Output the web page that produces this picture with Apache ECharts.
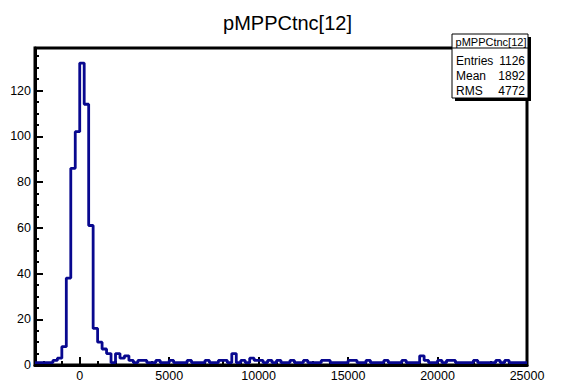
<!DOCTYPE html>
<html>
<head>
<meta charset="utf-8">
<script src="https://cdn.jsdelivr.net/npm/echarts@6/dist/echarts.min.js"></script>
<style>
  html, body { margin: 0; padding: 0; background: #fff; }
  #hist { width: 575px; height: 382px; }
</style>
</head>
<body>
<div id="hist"></div>
<script>
// binning of the histogram (110 bins of 250 from -2500 to 25000)
const xLow = -2500
const xHigh = 25000
const binWidth = 250

// bin contents
const counts = [
  1, 1, 1, 1, 2, 3, 8, 38, 86, 102,
  132, 114, 61, 16, 10, 7, 5, 1, 5, 3,
  4, 2, 1, 2, 2, 1, 1, 2, 1, 1,
  2, 1, 1, 1, 2, 1, 1, 1, 2, 1,
  1, 2, 2, 1, 5, 1, 2, 1, 3, 2,
  2, 1, 2, 1, 2, 1, 1, 2, 1, 1,
  2, 1, 1, 1, 2, 2, 1, 1, 1, 1,
  2, 2, 1, 1, 2, 1, 1, 1, 2, 1,
  1, 1, 2, 1, 1, 1, 4, 2, 1, 1,
  2, 1, 2, 2, 1, 1, 1, 1, 2, 1,
  1, 1, 1, 2, 1, 2, 1, 1, 1, 1
]

const xMajor = [0, 5000, 10000, 15000, 20000, 25000]
const xMinor = [-2000, -1000, 1000, 2000, 3000, 4000, 6000, 7000, 8000, 9000,
  11000, 12000, 13000, 14000, 16000, 17000, 18000, 19000, 21000, 22000, 23000, 24000]
const yMajor = [0, 20, 40, 60, 80, 100, 120]
const yMinor = [5, 10, 15, 25, 30, 35, 45, 50, 55, 65, 70, 75, 85, 90, 95,
  105, 110, 115, 125, 130, 135]
const yMax = 138.6

const histName = 'pMPPCtnc[12]'
const statNames = ['Entries', 'Mean', 'RMS']
const statValues = ['1126', '1892', '4772']

const font = 'Liberation Sans, Arial, Helvetica, sans-serif'

// outline points: left edge of every bin, plus the right edge of the last one
const steps = counts.map((c, i) => [xLow + i * binWidth, c])
steps.push([xHigh, counts[counts.length - 1]])

const chart = echarts.init(document.getElementById('hist'), null, { renderer: 'svg' })

// ROOT style stats box with its shadow
const statsGraphic = [
  { type: 'rect', shape: { x: 455, y: 37, width: 76, height: 64 }, style: { fill: '#000' } },
  { type: 'rect', shape: { x: 452, y: 34, width: 76, height: 64 }, style: { fill: '#fff', stroke: '#000', lineWidth: 1 } },
  { type: 'line', shape: { x1: 452, y1: 48, x2: 528, y2: 48 }, style: { stroke: '#000', lineWidth: 1 } },
  { type: 'text', x: 491, y: 41.5, style: { text: histName, font: '11px ' + font, fill: '#000', align: 'center', verticalAlign: 'middle' } }
]
statNames.forEach((n, i) => {
  statsGraphic.push({ type: 'text', x: 456, y: 61 + i * 14.8, style: { text: n, font: '12px ' + font, fill: '#000', align: 'left', verticalAlign: 'middle' } })
  statsGraphic.push({ type: 'text', x: 525, y: 61 + i * 14.8, style: { text: statValues[i], font: '12px ' + font, fill: '#000', align: 'right', verticalAlign: 'middle' } })
})

const plain = v => String(v)

const option = {
  animation: false,
  backgroundColor: '#fff',
  title: {
    text: histName,
    left: 'center',
    top: 8,
    textStyle: { fontFamily: font, fontSize: 20, fontWeight: 'normal', color: '#000' }
  },
  grid: {
    left: 35, right: 48, top: 48, bottom: 16,
    show: true, borderColor: '#000', borderWidth: 3, backgroundColor: 'transparent'
  },
  xAxis: [
    {
      type: 'value', min: xLow, max: xHigh, position: 'bottom',
      axisLine: { show: true, onZero: false, lineStyle: { color: '#000', width: 3 } },
      axisTick: { show: true, inside: true, length: 8, customValues: xMajor, lineStyle: { color: '#000', width: 2 } },
      axisLabel: { show: true, customValues: xMajor, formatter: plain, color: '#000', fontFamily: font, fontSize: 12.5, margin: 4 },
      splitLine: { show: false }
    },
    {
      type: 'value', min: xLow, max: xHigh, position: 'bottom',
      axisLine: { show: false, onZero: false },
      axisTick: { show: true, inside: true, length: 4, customValues: xMinor, lineStyle: { color: '#000', width: 2 } },
      axisLabel: { show: false },
      splitLine: { show: false }
    }
  ],
  yAxis: [
    {
      type: 'value', min: 0, max: yMax, position: 'left',
      axisLine: { show: true, onZero: false, lineStyle: { color: '#000', width: 3 } },
      axisTick: { show: true, inside: true, length: 8, customValues: yMajor, lineStyle: { color: '#000', width: 2 } },
      axisLabel: { show: true, customValues: yMajor, formatter: plain, color: '#000', fontFamily: font, fontSize: 12.5, margin: 4 },
      splitLine: { show: false }
    },
    {
      type: 'value', min: 0, max: yMax, position: 'left',
      axisLine: { show: false, onZero: false },
      axisTick: { show: true, inside: true, length: 4, customValues: yMinor, lineStyle: { color: '#000', width: 2 } },
      axisLabel: { show: false },
      splitLine: { show: false }
    }
  ],
  series: [
    {
      type: 'line',
      step: 'end',
      data: steps,
      symbol: 'none',
      xAxisIndex: 0,
      yAxisIndex: 0,
      lineStyle: { color: '#08088f', width: 2.8 },
      z: 1
    }
  ],
  graphic: statsGraphic
}

chart.setOption(option)
</script>
</body>
</html>
